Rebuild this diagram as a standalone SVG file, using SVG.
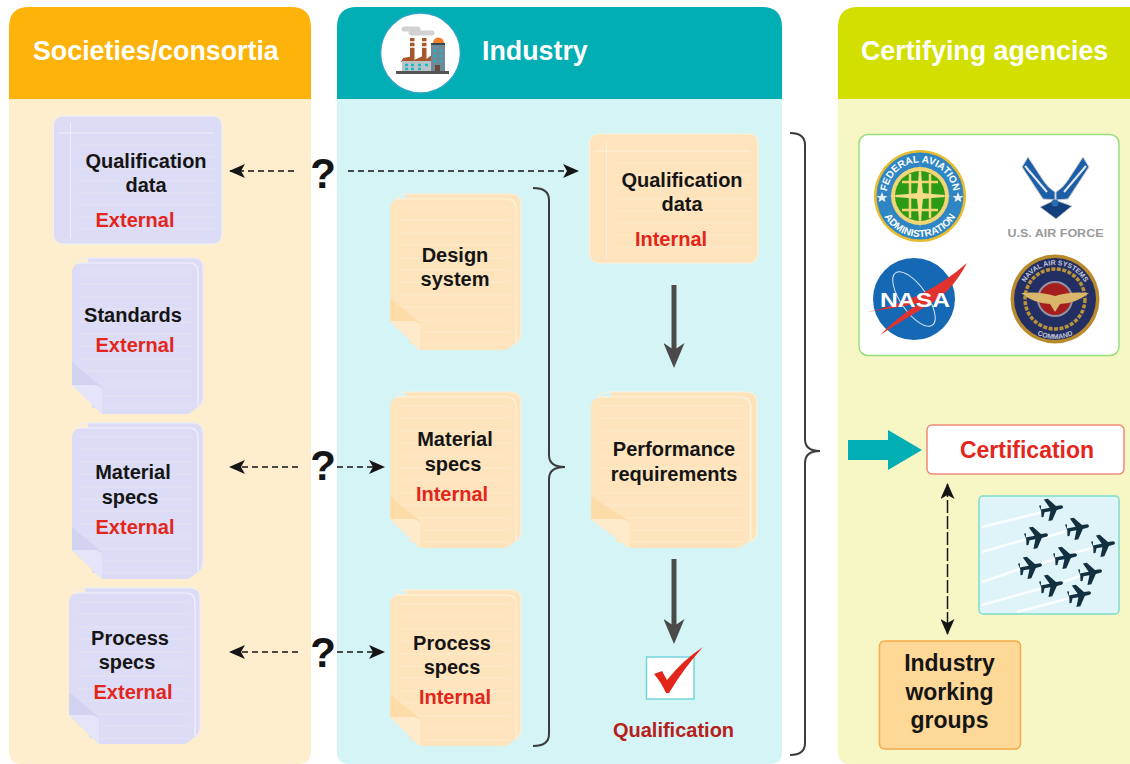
<svg xmlns="http://www.w3.org/2000/svg" xmlns:xlink="http://www.w3.org/1999/xlink" width="1130" height="764" viewBox="0 0 1130 764">
<style>
text{font-family:"Liberation Sans",Arial,sans-serif;font-weight:bold}
.h{font-size:26.800px;fill:#fff}
.t{font-size:20px;fill:#151515;text-anchor:middle}
.r{font-size:20px;fill:#e3261c;text-anchor:middle}
.q{font-size:42px;fill:#151515;text-anchor:middle}
.dash{fill:none;stroke:#151515;stroke-width:1.500;stroke-dasharray:6 4}
.dash-long{fill:none;stroke:#151515;stroke-width:1.500;stroke-dasharray:13 3}
.thick{fill:none;stroke:#4a4a4a;stroke-width:5}
.br{fill:none;stroke:#3c3c3c;stroke-width:2}
.trail{stroke:#fff;stroke-width:2.600;fill:none;opacity:.8}
</style>
<defs>
<marker id="ah" viewBox="0 0 16 14" refX="15" refY="7" markerWidth="16" markerHeight="14" markerUnits="userSpaceOnUse" orient="auto-start-reverse"><path d="M16,7 L0,0 L4,7 L0,14 Z" fill="#151515"/></marker>
<marker id="dh" viewBox="0 0 25 21" refX="7" refY="10.500" markerWidth="25" markerHeight="21" markerUnits="userSpaceOnUse" orient="auto"><path d="M0,0 L7,10.500 L0,21 L25,10.500 Z" fill="#4a4a4a"/></marker>
<g id="page-blue">
<path d="M16,0 H121 Q131,0 131,10 V140 Q131,146 124,150 H20 Z" fill="#dcdcf6"/>
<path d="M5,6 Q7,0 16,0 H121 Q131,0 131,10 V140 Q131,146 125,151" fill="none" stroke="#eeedfb"/>
<path d="M12,4.500 H116 Q126,4.500 126,15 V146 Q125,151 116,156 H30 L0,127 V15 Q0,4.500 12,4.500 Z" fill="#dcdcf6"/>
<path d="M6,5 H116 Q126,4.500 126,15 V148" fill="none" stroke="#f3f2fc" stroke-width="1.200"/>
<path d="M8,14H120M8,26H120M8,39H120M8,51H120M8,64H120M8,76H120M8,88H120M8,101H120M8,113H120M8,126H120M32,138H120M32,150H120" stroke="#e4e2f2" fill="none"/>
<path d="M0,104 L30,129 L0,127 Z" fill="#d2d2f1"/>
<path d="M0,127 H22 Q30,127 30,135 V156 Z" fill="#e4e4fa"/>
</g>
<g id="page-orange">
<path d="M16,0 H121 Q131,0 131,10 V140 Q131,146 124,150 H20 Z" fill="#fee4bd"/>
<path d="M5,6 Q7,0 16,0 H121 Q131,0 131,10 V140 Q131,146 125,151" fill="none" stroke="#fff1d8"/>
<path d="M12,4.500 H116 Q126,4.500 126,15 V146 Q125,151 116,156 H30 L0,127 V15 Q0,4.500 12,4.500 Z" fill="#fee4bd"/>
<path d="M6,5 H116 Q126,4.500 126,15 V148" fill="none" stroke="#fff3de" stroke-width="1.200"/>
<path d="M8,14H120M8,26H120M8,39H120M8,51H120M8,64H120M8,76H120M8,88H120M8,101H120M8,113H120M8,126H120M32,138H120M32,150H120" stroke="#feeacb" fill="none"/>
<path d="M0,104 L30,129 L0,127 Z" fill="#fddcaa"/>
<path d="M0,127 H22 Q30,127 30,135 V156 Z" fill="#ffebcb"/>
</g>
<path id="plane" d="M-11,-1.700 L-2,-1.800 L-6,-11 L-2,-11 L4.500,-2 L10,-1.700 Q12.500,0 10,1.700 L4.500,2 L-2,11 L-6,11 L-2,1.800 L-8,1.700 L-10,6 L-12,6 L-11,0 L-12,-6 L-10,-6 Z" fill="#12303f"/>
<path id="arc-faa-top" d="M886.500,196 A33.500,33.500 0 0 1 953.500,196"/>
<path id="arc-faa-bot" d="M879,196 A41,41 0 0 0 961,196"/>
<path id="arc-nav-top" d="M1021,299 A34,34 0 0 1 1089,299"/>
<path id="arc-nav-bot" d="M1015,299 A40,40 0 0 0 1095,299"/>
<clipPath id="plane-clip"><rect x="980" y="497" width="138" height="116" rx="4"/></clipPath>
</defs>

<g id="panel-societies">
<path d="M9,99 V27 Q9,7 29,7 H291 Q311,7 311,27 V99 Z" fill="#fdb309"/>
<path d="M9,99 H311 V752 Q311,764 299,764 H21 Q9,764 9,752 Z" fill="#feeecd"/>
<text class="h" x="33" y="60">Societies/consortia</text>
</g>
<g id="panel-industry">
<path d="M337,99 V27 Q337,7 357,7 H762 Q782,7 782,27 V99 Z" fill="#00aeb3"/>
<path d="M337,99 H782 V752 Q782,764 770,764 H349 Q337,764 337,752 Z" fill="#d5f4f6"/>
<text class="h" x="482" y="60">Industry</text>
<g id="factory-icon">
<circle cx="420.500" cy="53" r="40" fill="#fff" stroke="#2aa5c9" stroke-width="1.500"/>
<path d="M404,29 H418 M411,33 H432" stroke="#d2d2d2" stroke-width="5" stroke-linecap="round" fill="none"/>
<rect x="410" y="38" width="4.500" height="22" fill="#a8562a"/><rect x="422" y="38" width="4.500" height="22" fill="#a8562a"/>
<path d="M410,42h5M410,47h5M422,42h5M422,47h5" stroke="#fff" stroke-width="1.500" fill="none"/>
<path d="M401,62 L403,58 L414,56 L414,60 L425,55 L425,60 L433,54 V62 Z" fill="#a8562a"/>
<rect x="402" y="61" width="32" height="11" fill="#b9c4c9"/>
<rect x="431" y="45" width="14" height="27" fill="#6c8a99"/>
<path d="M433,43 A5.500,5.500 0 0 1 444,43 Z" fill="#ef7d2a"/>
<rect x="431" y="43" width="14" height="2" fill="#37474f"/>
<path d="M405,65h3M411,65h3M418,65h3M425,65h3M405,69h3M411,69h3M418,69h3M434,51h2M440,51h2M434,56h2M440,56h2M434,61h2M440,61h2" stroke="#1eb5c4" stroke-width="2.500" fill="none"/>
<rect x="435" y="65" width="5" height="7" fill="#6d4a35"/>
<rect x="396" y="71" width="53" height="3" fill="#555"/>
</g>
</g>
<g id="panel-agencies">
<path d="M838,99 V27 Q838,7 858,7 H1130 V99 Z" fill="#d2df00"/>
<path d="M838,99 H1130 V764 H850 Q838,764 838,752 Z" fill="#f6f7c5"/>
<text class="h" x="861" y="60">Certifying agencies</text>
</g>

<g id="doc-qual-ext">
<rect x="53.500" y="116" width="168.500" height="128" rx="9" fill="#dcdcf6" stroke="#f1effa"/>
<path d="M78,145H214M78,157H214M78,169H214M78,181H214M78,193H214M78,205H214M78,217H214M78,229H214" stroke="#e4e2f2" fill="none"/>
<path d="M58,133H214M70.500,123V239" stroke="#f1effa" fill="none"/>
<text class="t" x="146" y="168">Qualification</text><text class="t" x="146" y="192">data</text><text class="r" x="135" y="227">External</text>
</g>
<g id="doc-standards"><use href="#page-blue" x="72" y="258"/><text class="t" x="133" y="322">Standards</text><text class="r" x="135" y="352">External</text></g>
<g id="doc-material-ext"><use href="#page-blue" x="72" y="423"/><text class="t" x="133" y="479">Material</text><text class="t" x="130" y="504">specs</text><text class="r" x="135" y="534">External</text></g>
<g id="doc-process-ext"><use href="#page-blue" x="69" y="588"/><text class="t" x="130" y="645">Process</text><text class="t" x="127" y="669">specs</text><text class="r" x="133" y="699">External</text></g>

<g id="doc-design"><use href="#page-orange" x="390" y="194"/><text class="t" x="455" y="262">Design</text><text class="t" x="455" y="286">system</text></g>
<g id="doc-material-int"><use href="#page-orange" x="390" y="392"/><text class="t" x="455" y="446">Material</text><text class="t" x="453" y="471">specs</text><text class="r" x="452" y="501">Internal</text></g>
<g id="doc-process-int"><use href="#page-orange" x="390" y="590"/><text class="t" x="452" y="650">Process</text><text class="t" x="452" y="674">specs</text><text class="r" x="455" y="704">Internal</text></g>
<g id="doc-qual-int">
<rect x="589.500" y="134" width="168.500" height="129" rx="9" fill="#fee4bd" stroke="#fff1d8"/>
<path d="M614,163H750M614,175H750M614,187H750M614,199H750M614,211H750M614,223H750M614,235H750M614,247H750" stroke="#feeacb" fill="none"/>
<path d="M594,151H750M606.500,141V258" stroke="#fff1d8" fill="none"/>
<text class="t" x="682" y="187">Qualification</text><text class="t" x="682" y="211">data</text><text class="r" x="671" y="246">Internal</text>
</g>
<g id="doc-performance"><use href="#page-orange" transform="translate(591,392) scale(1.267,1)"/><text class="t" x="674" y="456">Performance</text><text class="t" x="674" y="481">requirements</text></g>

<g id="qualification">
<rect x="646.500" y="657" width="47.500" height="42" fill="#fff" stroke="#73d6d8" stroke-width="1.500"/>
<path d="M654,674 L662,671 L667,680 Q683,660 703,647 Q684,668 669,693 L666,693 Q661,682 654,674 Z" fill="#e3261c"/>
<text x="673.500" y="737" font-size="20" fill="#b5201a" text-anchor="middle">Qualification</text>
</g>

<g id="logos">
<rect x="859" y="134.500" width="260" height="221" rx="9" fill="#fff" stroke="#98e07c" stroke-width="1.500"/>
<g id="logo-faa">
<circle cx="920" cy="196" r="46" fill="#e7bb2c"/><circle cx="920" cy="196" r="43.500" fill="#2f86c5"/>
<circle cx="920" cy="196" r="29" fill="#f2d674"/>
<circle cx="920" cy="196" r="25" fill="#2d9a17"/>
<path d="M896,196H944M920,172V220M902,182H938M902,210H938M910,174V218M930,174V218" stroke="#f2d674" stroke-width="2.500" fill="none"/>
<path d="M920,164 L923,193 L951,196 L923,199 L920,228 L917,199 L889,196 L917,193 Z" fill="#f3dd87"/>
<path d="M882,192 L883.500,196 L887.500,196 L884.500,198.500 L885.500,202 L882,200 L878.500,202 L879.500,198.500 L876.500,196 L880.500,196 Z M958,192 L959.500,196 L963.500,196 L960.500,198.500 L961.500,202 L958,200 L954.500,202 L955.500,198.500 L952.500,196 L956.500,196 Z" fill="#e6eef6"/>
<text font-size="10" fill="#fff"><textPath href="#arc-faa-top" startOffset="50%" text-anchor="middle">FEDERAL AVIATION</textPath></text>
<text font-size="10" fill="#fff"><textPath href="#arc-faa-bot" startOffset="50%" text-anchor="middle">ADMINISTRATION</textPath></text>
</g>
<g id="logo-airforce">
<path d="M1022,167 L1028,157 L1043,180 Q1048,188 1055,192 L1055,200 L1043,199 Z M1089,167 L1083,157 L1068,180 Q1063,188 1056,192 L1056,200 L1068,199 Z" fill="#1d5fa6" stroke="#c9ccd2"/>
<path d="M1025,166 L1047,192 M1086,166 L1064,192" stroke="#e6e9ee" stroke-width="2"/>
<path d="M1040,207 L1055,200 L1072,206 L1056,219 Z" fill="#123f7e" stroke="#c9ccd2"/>
<circle cx="1055" cy="203" r="3.500" fill="#2a6cb0"/>
<text x="1055.500" y="237" font-size="11" fill="#9a9a9a" text-anchor="middle" textLength="96" lengthAdjust="spacingAndGlyphs">U.S. AIR FORCE</text>
</g>
<g id="logo-nasa">
<circle cx="914" cy="299" r="41" fill="#1568b3"/>
<ellipse cx="914" cy="299" rx="13" ry="32" transform="rotate(-35 914 299)" fill="none" stroke="#dfe9f5"/>
<path d="M868,312 Q925,300 967,263 Q950,295 925,307 Q900,322 880,335 Q900,315 920,303 Q895,308 868,312 Z" fill="#e1322d"/>
<text x="915" y="307" font-size="21" fill="#fff" text-anchor="middle" textLength="70" lengthAdjust="spacingAndGlyphs">NASA</text>
</g>
<g id="logo-naval">
<circle cx="1055" cy="299" r="44.500" fill="#b88a2c"/><circle cx="1055" cy="299" r="41" fill="#232f62"/>
<circle cx="1055" cy="299" r="30" fill="none" stroke="#b8933a" stroke-width="3.500" stroke-dasharray="4 1.500"/>
<circle cx="1055" cy="299" r="17" fill="#a51e1e" stroke="#8f93a5" stroke-width="2"/>
<path d="M1021,293 Q1040,291 1055,296 Q1070,291 1089,293 Q1075,304 1060,304 L1055,312 L1050,304 Q1035,304 1021,293 Z" fill="#d9b66a"/>
<text font-size="7" fill="#c3c8d8"><textPath href="#arc-nav-top" startOffset="50%" text-anchor="middle">NAVAL AIR SYSTEMS</textPath></text>
<text font-size="7" fill="#c3c8d8"><textPath href="#arc-nav-bot" startOffset="50%" text-anchor="middle">COMMAND</textPath></text>
</g>
</g>

<g id="certification">
<rect x="927" y="425" width="197" height="49" rx="5" fill="#fff" stroke="#f08a78" stroke-width="1.500"/>
<text x="1027" y="458" font-size="23" fill="#e3261c" text-anchor="middle">Certification</text>
</g>
<g id="planes">
<rect x="979" y="496" width="140" height="118" rx="4" fill="#dff4f9" stroke="#7fdccc" stroke-width="1.500"/>
<g clip-path="url(#plane-clip)">
<path class="trail" d="M982,527 L1043,512 M982,552 L1030,538 M1043,538 L1070,530 M982,582 L1023,568 M1037,565 L1057,558 M1073,553 L1097,547 M982,605 L1043,588 M1060,583 L1083,575 M1017,612 L1070,598"/>
</g>
<use href="#plane" transform="translate(1052,509) rotate(-12)"/>
<use href="#plane" transform="translate(1078,528) rotate(-12)"/>
<use href="#plane" transform="translate(1037,537) rotate(-12)"/>
<use href="#plane" transform="translate(1104,545) rotate(-12)"/>
<use href="#plane" transform="translate(1066,557) rotate(-12)"/>
<use href="#plane" transform="translate(1031,567) rotate(-12)"/>
<use href="#plane" transform="translate(1091,573) rotate(-12)"/>
<use href="#plane" transform="translate(1052,585) rotate(-12)"/>
<use href="#plane" transform="translate(1080,595) rotate(-12)"/>
</g>
<g id="working-groups">
<rect x="879.500" y="641" width="141" height="108" rx="5" fill="#fdd896" stroke="#f5a94a" stroke-width="1.500"/>
<text x="949.500" y="671" font-size="23" fill="#151515" text-anchor="middle">Industry</text>
<text x="949.500" y="700" font-size="23" fill="#151515" text-anchor="middle">working</text>
<text x="949.500" y="728" font-size="23" fill="#151515" text-anchor="middle">groups</text>
</g>

<g id="connectors">
<text class="q" x="323" y="188">?</text>
<text class="q" x="323" y="480">?</text>
<text class="q" x="323" y="667">?</text>
<path class="dash" d="M294,171 H230" marker-end="url(#ah)"/>
<path class="dash" d="M348,171 H578" marker-end="url(#ah)"/>
<path class="dash" d="M298,467 H230" marker-end="url(#ah)"/>
<path class="dash" d="M337,467 H384" marker-end="url(#ah)"/>
<path class="dash" d="M298,652 H230" marker-end="url(#ah)"/>
<path class="dash" d="M337,652 H384" marker-end="url(#ah)"/>
<path class="dash-long" d="M947.500,484 V634" marker-start="url(#ah)" marker-end="url(#ah)"/>
<path class="thick" d="M674,285 V350" marker-end="url(#dh)"/>
<path class="thick" d="M674,559 V626" marker-end="url(#dh)"/>
<path class="br" d="M533,188 Q549,188 549,200 V455 Q549,467 565,467 Q549,467 549,479 V734 Q549,746 533,746"/>
<path class="br" d="M790,133 Q805,133 805,145 V439 Q805,451 820,451 Q805,451 805,463 V743 Q805,755 790,755"/>
<path d="M848,440 H888 V430 L922,450 L888,470 V460 H848 Z" fill="#00aeb3"/>
</g>
</svg>
